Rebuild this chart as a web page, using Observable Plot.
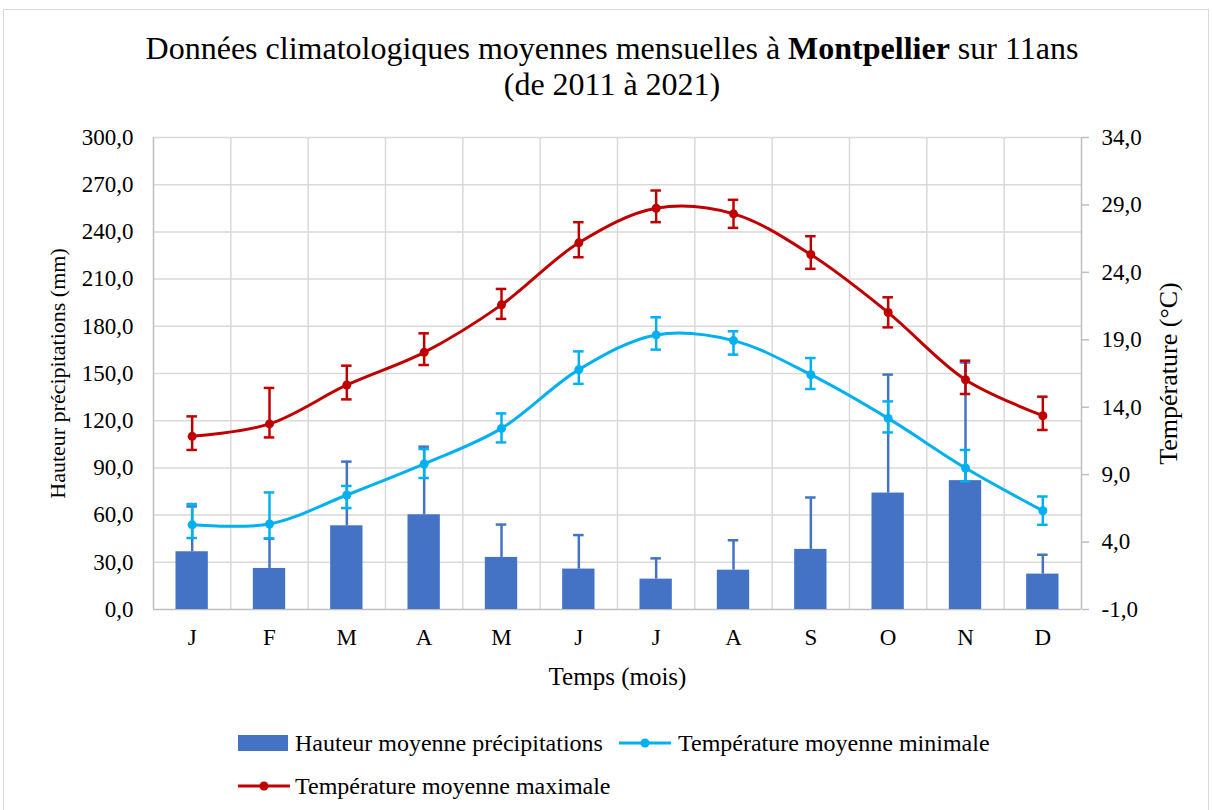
<!DOCTYPE html>
<html>
<head>
<meta charset="utf-8">
<script src="https://cdn.jsdelivr.net/npm/d3@7"></script>
<script src="https://cdn.jsdelivr.net/npm/@observablehq/plot@0.6"></script>
<style>
  html, body { margin: 0; padding: 0; background: #fff; }
  #page { position: relative; width: 1212px; height: 810px; overflow: hidden; font-family: "Liberation Serif", "Times New Roman", serif; color: #000; }
  #frame { position: absolute; left: 3px; top: 9px; width: 1206px; height: 820px; border: 1.5px solid #D9D9D9; box-sizing: border-box; }
  #title { position: absolute; left: 12px; top: 30px; width: 1200px; text-align: center; font-size: 32px; line-height: 36px; white-space: nowrap; }
  #chart { position: absolute; left: 0; top: 110px; }
  .sw { position: absolute; }
  .lt { position: absolute; font-size: 24px; line-height: 28px; white-space: nowrap; }
</style>
</head>
<body>
<div id="page">
  <div id="frame"></div>
  <div id="title">Données climatologiques moyennes mensuelles à <b>Montpellier</b> sur 11ans<br>(de 2011 à 2021)</div>
  <div id="chart"></div>
  <svg class="sw" style="left:238px; top:735px;" width="50" height="16"><rect x="0" y="0" width="50" height="16" fill="#4472C4"></rect></svg>
  <div class="lt" style="left:295px; top:729px;">Hauteur moyenne précipitations</div>
  <svg class="sw" style="left:619px; top:735px;" width="53" height="16"><line x1="0" x2="52" y1="8" y2="8" stroke="#00B0F0" stroke-width="3"></line><circle cx="26" cy="8" r="4.5" fill="#00B0F0"></circle></svg>
  <div class="lt" style="left:678px; top:729px;">Température moyenne minimale</div>
  <svg class="sw" style="left:238px; top:778px;" width="53" height="16"><line x1="0" x2="52" y1="8" y2="8" stroke="#C00000" stroke-width="3"></line><circle cx="26" cy="8" r="4.5" fill="#C00000"></circle></svg>
  <div class="lt" style="left:295px; top:772px;">Température moyenne maximale</div>
</div>
<script>
// ---- data ----
const months = ["J", "F", "M", "A", "M", "J", "J", "A", "S", "O", "N", "D"];
const precip = [36.7, 26.1, 53.2, 60.2, 33.1, 25.7, 19.3, 25.0, 38.2, 74.0, 81.9, 22.5];
const precipHigh = [65.5, 45, 94, 103.5, 54, 47.3, 32.5, 44, 71.2, 149.3, 157, 34.8];
const tmin = [5.28, 5.34, 7.49, 9.79, 12.43, 16.79, 19.36, 18.94, 16.41, 13.17, 9.49, 6.32];
const tminLow = [4.30, 4.27, 6.52, 8.75, 11.39, 15.73, 18.27, 17.90, 15.35, 12.13, 8.50, 5.28];
const tminHigh = [6.82, 7.68, 8.16, 10.90, 13.54, 18.14, 20.67, 19.63, 17.65, 14.43, 10.83, 7.38];
const tmax = [11.84, 12.76, 15.65, 18.07, 21.59, 26.19, 28.75, 28.34, 25.32, 21.02, 16.04, 13.37];
const tmaxLow = [10.83, 11.76, 14.58, 17.13, 20.55, 25.12, 27.72, 27.30, 24.26, 19.92, 14.98, 12.31];
const tmaxHigh = [13.32, 15.43, 17.08, 19.48, 22.77, 27.72, 30.07, 29.38, 26.68, 22.15, 17.45, 14.78];
const precipTicks = [0, 30, 60, 90, 120, 150, 180, 210, 240, 270, 300];
const tempTicks = [-1, 4, 9, 14, 19, 24, 29, 34];
const xTitle = "Temps (mois)";
const yTitleLeft = "Hauteur précipitations (mm)";
const yTitleRight = "Température (°C)";

// ---- helpers ----
const tMinAxis = -1, tMaxAxis = 34, pMax = 300;
const toMm = t => (t - tMinAxis) * pMax / (tMaxAxis - tMinAxis);
const fromMm = v => v * (tMaxAxis - tMinAxis) / pMax + tMinAxis;
const fmt = v => v.toFixed(1).replace(".", ",");

const data = months.map((m, i) => ({
  c: i + 0.5, m,
  p: precip[i], pHi: precipHigh[i],
  tmin: tmin[i], tminLo: tminLow[i], tminHi: tminHigh[i],
  tmax: tmax[i], tmaxLo: tmaxLow[i], tmaxHi: tmaxHigh[i]
}));

const barHalf = 0.209, capHalf = 0.068;
const grid = "#D9D9D9", axisCol = "#BFBFBF";
const cBlue = "#4472C4", cCyan = "#00B0F0", cRed = "#C00000";

function tempSeries(key, lo, hi, color) {
  return [
    Plot.ruleX(data, {x: "c", y1: d => toMm(d[lo]), y2: d => toMm(d[hi]), stroke: color, strokeWidth: 2.5}),
    Plot.ruleY(data, {y: d => toMm(d[lo]), x1: d => d.c - capHalf, x2: d => d.c + capHalf, stroke: color, strokeWidth: 2.5}),
    Plot.ruleY(data, {y: d => toMm(d[hi]), x1: d => d.c - capHalf, x2: d => d.c + capHalf, stroke: color, strokeWidth: 2.5}),
    Plot.line(data, {x: "c", y: d => toMm(d[key]), curve: "catmull-rom", stroke: color, strokeWidth: 3}),
    Plot.dot(data, {x: "c", y: d => toMm(d[key]), r: 4.5, fill: color, stroke: "none"})
  ];
}

const chart = Plot.plot({
  width: 1212,
  height: 590,
  marginTop: 27,
  marginBottom: 91,
  marginLeft: 153,
  marginRight: 131,
  style: {fontFamily: "'Liberation Serif', 'Times New Roman', serif", fontSize: "23px", color: "#000", background: "transparent"},
  x: {type: "linear", domain: [0, 12]},
  y: {domain: [0, pMax]},
  marks: [
    Plot.ruleY(precipTicks.slice(1), {stroke: grid, strokeWidth: 1.5}),
    Plot.ruleX(d3.range(1, 12), {stroke: grid, strokeWidth: 1.5}),
    Plot.ruleX([0, 12], {stroke: axisCol, strokeWidth: 1.5}),
    Plot.ruleY([0], {stroke: axisCol, strokeWidth: 1.5}),
    Plot.axisX({ticks: data.map(d => d.c), tickFormat: v => months[Math.round(v - 0.5)], tickSize: 0, tickPadding: 19, label: null, fontSize: 23}),
    Plot.axisY({ticks: precipTicks, tickFormat: fmt, tickSize: 0, tickPadding: 20, label: null, fontSize: 23}),
    Plot.axisY({anchor: "right", ticks: tempTicks.map(toMm), tickFormat: v => fmt(fromMm(v)), tickSize: 7, tickPadding: 13, stroke: axisCol, strokeWidth: 1.5, label: null, fontSize: 23}),
    Plot.text([xTitle], {text: d => d, frameAnchor: "bottom", dy: 75, textAnchor: "middle", fontSize: 25, fill: "#000"}),
    Plot.text([yTitleLeft], {text: d => d, frameAnchor: "left", dx: -96, rotate: -90, textAnchor: "middle", lineAnchor: "middle", fontSize: 22, fill: "#000"}),
    Plot.text([yTitleRight], {text: d => d, frameAnchor: "right", dx: 87, rotate: -90, textAnchor: "middle", lineAnchor: "middle", fontSize: 26, fill: "#000"}),
    Plot.rectY(data, {x1: d => d.c - barHalf, x2: d => d.c + barHalf, y1: 0, y2: "p", fill: cBlue}),
    Plot.ruleX(data, {x: "c", y1: "p", y2: "pHi", stroke: cBlue, strokeWidth: 2.5}),
    Plot.ruleY(data, {y: "pHi", x1: d => d.c - capHalf, x2: d => d.c + capHalf, stroke: cBlue, strokeWidth: 2.5}),
    ...tempSeries("tmin", "tminLo", "tminHi", cCyan),
    ...tempSeries("tmax", "tmaxLo", "tmaxHi", cRed)
  ]
});
document.getElementById("chart").appendChild(chart);
</script>
</body>
</html>
